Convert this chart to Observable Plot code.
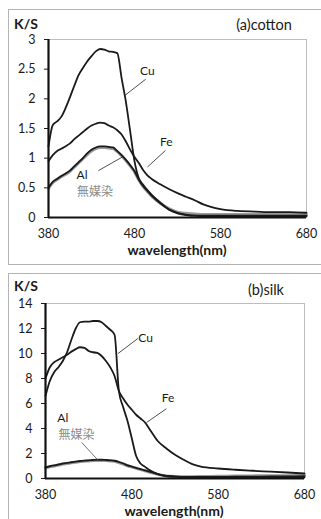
<!DOCTYPE html>
<html><head><meta charset="utf-8">
<script src="https://cdn.jsdelivr.net/npm/d3@7"></script>
<script src="https://cdn.jsdelivr.net/npm/@observablehq/plot@0.6"></script>
<style>
html,body{margin:0;padding:0;background:#fff;width:321px;height:519px;overflow:hidden;}
body{position:relative;font-family:Lato,"Noto Sans CJK JP",sans-serif;}
.panel{position:absolute;left:8px;width:340px;border:1.5px solid #b4b4b4;box-sizing:border-box;}
.lbl{position:absolute;transform:translate(-50%,-50%);white-space:nowrap;color:#1a1a1a;line-height:1;}
.chart{position:absolute;left:0;}
</style></head>
<body>
<div class="panel" style="top:9px;height:256px"></div>
<div class="panel" style="top:273px;height:260px"></div>
<div id="c1" class="chart" style="top:9px"></div>
<div id="c2" class="chart" style="top:273px"></div>
<div class="lbl" style="left:26px;top:24px;font-weight:bold;font-size:14px">K/S</div>
<div class="lbl" style="left:264px;top:25px;font-size:14.5px">(a)cotton</div>
<div class="lbl" style="left:177px;top:250px;font-weight:bold;font-size:14px">wavelength(nm)</div>
<div class="lbl" style="left:26px;top:286px;font-weight:bold;font-size:14px">K/S</div>
<div class="lbl" style="left:266px;top:290px;font-size:14.5px">(b)silk</div>
<div class="lbl" style="left:174px;top:511px;font-weight:bold;font-size:14px">wavelength(nm)</div>
<script>
// wavelengths (nm)
const wl = [380,385,390,395,400,405,410,415,420,425,430,435,440,445,450,455,460,465,470,475,480,485,490,495,500,510,520,530,540,550,560,580,600,620,640,660,680];

// (a) cotton K/S
const cottonCu   = [1.20,1.56,1.62,1.70,1.85,2.03,2.22,2.40,2.52,2.63,2.72,2.80,2.84,2.83,2.80,2.79,2.77,2.35,1.95,1.45,0.95,0.66,0.55,0.46,0.38,0.25,0.13,0.07,0.04,0.03,0.03,0.03,0.03,0.03,0.03,0.03,0.03];
const cottonFe   = [0.95,1.05,1.12,1.16,1.20,1.25,1.32,1.38,1.44,1.50,1.55,1.58,1.60,1.59,1.55,1.52,1.47,1.40,1.28,1.14,1.02,0.92,0.80,0.71,0.65,0.56,0.48,0.41,0.35,0.29,0.22,0.14,0.11,0.10,0.09,0.09,0.08];
const cottonAl   = [0.50,0.60,0.65,0.70,0.74,0.79,0.86,0.93,1.00,1.08,1.14,1.18,1.20,1.20,1.19,1.18,1.12,1.05,0.97,0.88,0.78,0.64,0.53,0.45,0.37,0.24,0.14,0.08,0.05,0.03,0.02,0.02,0.02,0.02,0.02,0.02,0.02];
const cottonNone = [0.49,0.59,0.64,0.69,0.73,0.78,0.85,0.92,0.99,1.06,1.12,1.16,1.18,1.18,1.17,1.16,1.11,1.04,0.96,0.87,0.77,0.63,0.52,0.44,0.36,0.24,0.15,0.09,0.07,0.06,0.05,0.05,0.05,0.05,0.05,0.05,0.05];

// (b) silk K/S
const silkCu   = [6.6,7.8,8.5,8.9,9.4,10.1,11.1,12.0,12.5,12.55,12.55,12.6,12.6,12.5,12.2,11.9,11.5,7.0,5.7,4.6,3.2,1.8,1.2,0.95,0.7,0.35,0.2,0.15,0.12,0.12,0.12,0.13,0.14,0.15,0.16,0.17,0.18];
const silkFe   = [8.0,8.9,9.3,9.5,9.7,9.9,10.15,10.35,10.5,10.45,10.2,10.1,10.05,9.8,9.4,8.9,8.2,7.0,6.4,5.9,5.5,5.1,4.8,4.5,4.0,3.0,2.4,1.9,1.5,1.15,0.95,0.8,0.7,0.62,0.55,0.48,0.4];
const silkAl   = [0.9,0.98,1.05,1.12,1.2,1.25,1.3,1.35,1.4,1.43,1.45,1.48,1.5,1.5,1.48,1.45,1.42,1.32,1.2,1.05,0.95,0.85,0.75,0.65,0.55,0.35,0.2,0.15,0.12,0.1,0.1,0.1,0.1,0.1,0.1,0.1,0.1];
const silkNone = [0.85,0.93,1.0,1.07,1.15,1.2,1.25,1.3,1.35,1.38,1.4,1.43,1.45,1.45,1.43,1.4,1.37,1.28,1.16,1.02,0.92,0.82,0.72,0.62,0.52,0.33,0.2,0.16,0.15,0.15,0.16,0.18,0.2,0.21,0.22,0.23,0.24];

// tick labels
const cottonYTicks = [0,0.5,1,1.5,2,2.5,3];
const silkYTicks = [0,2,4,6,8,10,12,14];
const xTicks = [380,480,580,680];

// annotations: label, position and leader line (data coords)
const cottonLabels = ["Cu","Fe","Al","無媒染"];
const cottonLabelX = [495,517,419,434];
const cottonLabelY = [2.46,1.27,0.71,0.43];
const cottonLeaderX1 = [493,516,438,null];
const cottonLeaderY1 = [2.33,1.13,0.79,null];
const cottonLeaderX2 = [469,495,466,null];
const cottonLeaderY2 = [2.06,0.85,1.02,null];

const silkLabels = ["Cu","Fe","Al","無媒染"];
const silkLabelX = [496,522,400,416];
const silkLabelY = [11.2,6.4,4.8,3.5];
const silkLeaderX1 = [487,520,null,422];
const silkLeaderY1 = [11.2,5.58,null,2.88];
const silkLeaderX2 = [464,497,null,441];
const silkLeaderY2 = [10.0,4.48,null,1.45];

function seriesRows(vals){ return wl.map((w,i)=>({w, v: vals[i]})); }

function panel({height, mt, mb, ml, mr, ymax, yTicks, series, labels, lx, ly, x1, y1, x2, y2}) {
  const ann = labels.map((t,i)=>({t, x: lx[i], y: ly[i], x1: x1[i], y1: y1[i], x2: x2[i], y2: y2[i], gray: t === "無媒染"}));
  const links = ann.filter(d => d.x1 != null);
  return Plot.plot({
    width: 321, height,
    marginTop: mt, marginBottom: mb, marginLeft: ml, marginRight: mr,
    style: {fontFamily: "Lato, 'Noto Sans CJK JP', sans-serif", fontSize: "12.5px", color: "#1a1a1a", background: "transparent"},
    x: {domain: [380,680]},
    y: {domain: [0,ymax]},
    marks: [
      Plot.frame({stroke: "#bdbdbd", strokeWidth: 1}),
      Plot.axisY({ticks: yTicks, tickSize: 4, tickPadding: 9, label: null, fontSize: 12.5, tickFormat: d => String(d)}),
      Plot.axisX({ticks: xTicks, tickSize: 0, tickPadding: 12, label: null, fontSize: 12.5}),
      Plot.line(seriesRows(series[3]), {x: "w", y: "v", stroke: "#9a9a9a", strokeWidth: 3, curve: "monotone-x"}),
      Plot.line(seriesRows(series[2]), {x: "w", y: "v", stroke: "#1a1a1a", strokeWidth: 1.8, curve: "monotone-x"}),
      Plot.line(seriesRows(series[1]), {x: "w", y: "v", stroke: "#1a1a1a", strokeWidth: 1.8, curve: "monotone-x"}),
      Plot.line(seriesRows(series[0]), {x: "w", y: "v", stroke: "#1a1a1a", strokeWidth: 1.8, curve: "monotone-x"}),
      Plot.ruleX([380], {stroke: "#111", strokeWidth: 2.2}),
      Plot.ruleY([0], {stroke: "#111", strokeWidth: 2.2}),
      Plot.link(links, {x1: "x1", y1: "y1", x2: "x2", y2: "y2", stroke: d => d.gray ? "#555" : "#222", strokeWidth: 0.8}),
      Plot.text(ann, {x: "x", y: "y", text: "t", fill: d => d.gray ? "#8a8a8a" : "#1a1a1a", fontSize: 12})
    ]
  });
}

document.getElementById("c1").append(panel({
  height: 256, mt: 30, mb: 48, ml: 48, mr: 15, ymax: 3, yTicks: cottonYTicks,
  series: [cottonCu, cottonFe, cottonAl, cottonNone],
  labels: cottonLabels, lx: cottonLabelX, ly: cottonLabelY,
  x1: cottonLeaderX1, y1: cottonLeaderY1, x2: cottonLeaderX2, y2: cottonLeaderY2
}));
document.getElementById("c2").append(panel({
  height: 246, mt: 30, mb: 41, ml: 45, mr: 17, ymax: 14, yTicks: silkYTicks,
  series: [silkCu, silkFe, silkAl, silkNone],
  labels: silkLabels, lx: silkLabelX, ly: silkLabelY,
  x1: silkLeaderX1, y1: silkLeaderY1, x2: silkLeaderX2, y2: silkLeaderY2
}));
</script>
</body></html>
